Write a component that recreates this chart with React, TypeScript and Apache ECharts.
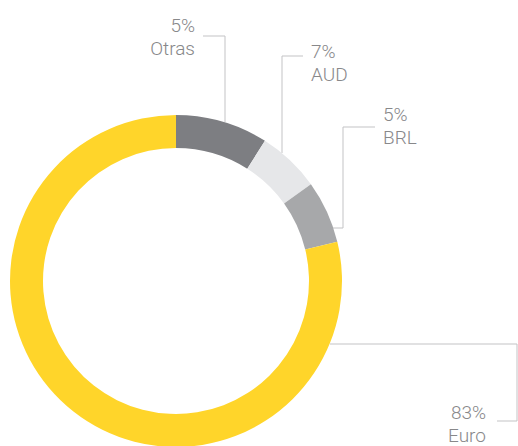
import React, { useEffect, useRef } from "react";
import * as echarts from "echarts";

const categories = ["Otras", "AUD", "BRL", "Euro"];
// arc shares as drawn in the picture
const arcShares = [9.0, 6.1, 6.1, 78.8];
// percentages printed on the labels
const labelPercents = ["5%", "7%", "5%", "83%"];
const colors = ["#7d7e82", "#e6e7e9", "#a7a8aa", "#ffd52a"];

const labelPos = [
  { x: 195, y: 37, align: "right" },
  { x: 311, y: 63, align: "left" },
  { x: 383, y: 126, align: "left" },
  { x: 486, y: 424, align: "right" },
];
const leaderLines = [
  [[225, 122], [225, 36], [203, 36]],
  [[282, 153], [282, 56], [303, 56]],
  [[333, 228], [343, 228], [343, 127], [375, 127]],
  [[330, 344], [517, 344], [517, 421], [497, 421]],
];

export default function App() {
  const ref = useRef<HTMLDivElement>(null);
  useEffect(() => {
    if (!ref.current) return;
    const chart = echarts.init(ref.current, null, { renderer: "svg" });
    const graphics: any[] = [];
    categories.forEach((c, i) => {
      graphics.push({
        type: "polyline",
        shape: { points: leaderLines[i] },
        style: { stroke: "#c3c3c5", lineWidth: 1, fill: "none" },
        silent: true,
      });
      graphics.push({
        type: "text",
        x: labelPos[i].x,
        y: labelPos[i].y,
        style: {
          text: `${labelPercents[i]}\n${c}`,
          fill: "#88888a",
          font: "300 19px Roboto, 'DejaVu Sans', sans-serif",
          lineHeight: 23,
          align: labelPos[i].align,
          verticalAlign: "middle",
          textAlign: labelPos[i].align,
          textVerticalAlign: "middle",
        },
        silent: true,
      });
    });
    chart.setOption({
      animation: false,
      series: [
        {
          type: "pie",
          center: [176, 281],
          radius: [133, 166],
          startAngle: 90,
          clockwise: true,
          label: { show: false },
          labelLine: { show: false },
          emphasis: { disabled: true },
          silent: true,
          itemStyle: { borderWidth: 0 },
          data: categories.map((c, i) => ({
            name: c,
            value: arcShares[i],
            itemStyle: { color: colors[i] },
          })),
        },
      ],
      graphic: graphics,
    });
    return () => chart.dispose();
  }, []);
  return (
    <div
      ref={ref}
      style={{ position: "fixed", left: 0, top: 0, width: 518, height: 446, background: "#fff" }}
    />
  );
}
